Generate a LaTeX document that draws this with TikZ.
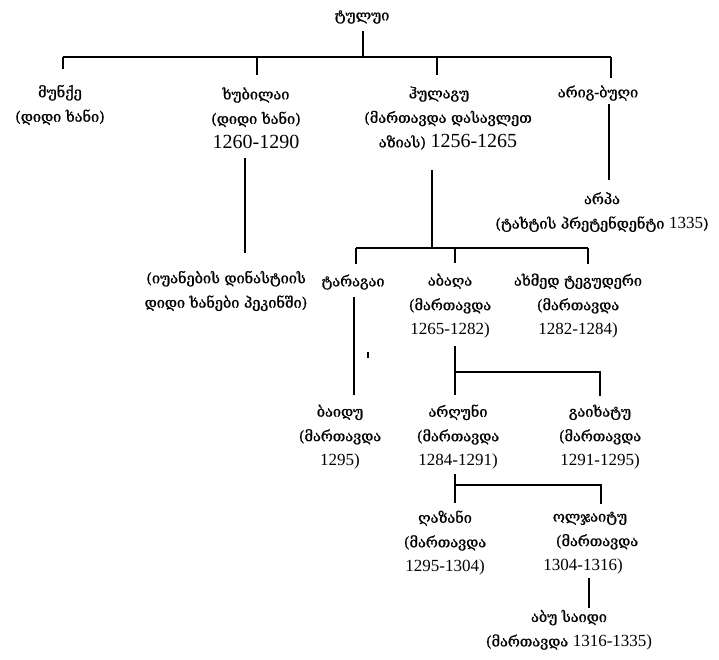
\documentclass[tikz,border=0pt]{standalone}
\usepackage{fontspec}
\setmainfont{Liberation Serif}
\newfontfamily\geo[FakeBold=1]{DejaVu Serif}
\newcommand{\yr}[1]{{\rmfamily\fontsize{17}{24.5}\selectfont #1}}
\newcommand{\yrb}[1]{{\rmfamily\fontsize{20}{24.5}\selectfont #1}}
\tikzset{
  lbl/.style={font=\geo\fontsize{14.5}{24.5}\selectfont, align=center, inner sep=0pt},
  ln/.style={line width=1.8pt}
}
\begin{document}
\begin{tikzpicture}[x=1pt,y=-1pt]
\useasboundingbox[fill=white] (0,0) rectangle (719,659);
% people
\node[lbl] (tolui) at (362,17) {ტულუი};
\node[lbl] (munke) at (60,105) {მუნქე\\(დიდი ხანი)};
\node[lbl] (khub) at (256,118) {ხუბილაი\\(დიდი ხანი)\\\yrb{1260-1290}};
\node[lbl] (hul) at (448,118) {ჰულაგუ\kern18pt\\(მართავდა დასავლეთ\\აზიას) \yrb{1256-1265}};
\node[lbl] (arig) at (598,93) {არიგ-ბუღი};
\node[lbl] (arpa) at (602,212) {არპა\\(ტახტის პრეტენდენტი \yr{1335})};
\node[lbl] (yuan) at (226,291) {(იუანების დინასტიის\\დიდი ხანები პეკინში)};
\node[lbl] (tar) at (353,282) {ტარაგაი};
\node[lbl] (abaqa) at (450,306) {აბაღა\\(მართავდა\\\yr{1265-1282)}};
\node[lbl] (ahmed) at (578,306) {ახმედ ტეგუდერი\\(მართავდა\\\yr{1282-1284)}};
\node[lbl] (baidu) at (340,437) {ბაიდუ\\(მართავდა\\\yr{1295)}};
\node[lbl] (arghun) at (458,437) {არღუნი\\(მართავდა\\\yr{1284-1291)}};
\node[lbl] (gaykh) at (600,437) {გაიხატუ\\(მართავდა\\\yr{1291-1295)}};
\node[lbl] (ghazan) at (445,543) {ღაზანი\\(მართავდა\\\yr{1295-1304)}};
\node[lbl] (olj) at (590,543) {ოლჯაიტუ\\\hspace*{14pt}(მართავდა\\\yr{1304-1316)}\kern14pt};
\node[lbl] (abu) at (569,630) {აბუ საიდი\\(მართავდა \yr{1316-1335)}};
% junctions
\coordinate (tA) at (363,31); \coordinate (tB) at (363,57);
\coordinate (bL) at (63,57);  \coordinate (bR) at (611,57);
\coordinate (dM) at (63,69);  \coordinate (dK) at (257,75);
\coordinate (dH) at (437,75); \coordinate (dA) at (611,78);
\coordinate (aA) at (609,104); \coordinate (aB) at (609,180);
\coordinate (kA) at (245,158); \coordinate (kB) at (245,253);
\coordinate (hA) at (432,170); \coordinate (hB) at (432,248);
\coordinate (hL) at (356,248); \coordinate (hR) at (588,248);
\coordinate (hT) at (356,264); \coordinate (hAb) at (455,263); \coordinate (hAh) at (588,264);
\coordinate (tgA) at (354,297); \coordinate (tgB) at (354,395);
\coordinate (abA) at (455,346); \coordinate (abB) at (455,395);
\coordinate (abJ) at (455,372); \coordinate (abR) at (600,372); \coordinate (abD) at (600,396);
\coordinate (arA) at (455,474); \coordinate (arB) at (455,503);
\coordinate (arJ) at (455,485); \coordinate (arR) at (601,485); \coordinate (arD) at (601,504);
\coordinate (oA) at (589,578); \coordinate (oB) at (589,608);
\coordinate (sA) at (368,352); \coordinate (sB) at (368,358);
% connectors
\draw[ln] (tA) -- (tB);
\draw[ln] (bL) -- (bR);
\draw[ln] (bL) -- (dM);
\draw[ln] (dK |- tB) -- (dK);
\draw[ln] (dH |- tB) -- (dH);
\draw[ln] (bR) -- (dA);
\draw[ln] (aA) -- (aB);
\draw[ln] (kA) -- (kB);
\draw[ln] (hA) -- (hB);
\draw[ln] (hL) -- (hR);
\draw[ln] (hL) -- (hT);
\draw[ln] (hAb |- hB) -- (hAb);
\draw[ln] (hR) -- (hAh);
\draw[ln] (tgA) -- (tgB);
\draw[ln] (abA) -- (abB);
\draw[ln] (abJ) -- (abR) -- (abD);
\draw[ln] (arA) -- (arB);
\draw[ln] (arJ) -- (arR) -- (arD);
\draw[ln] (oA) -- (oB);
\draw[line width=1.2pt] (sA) -- (sB);
\end{tikzpicture}
\end{document}
